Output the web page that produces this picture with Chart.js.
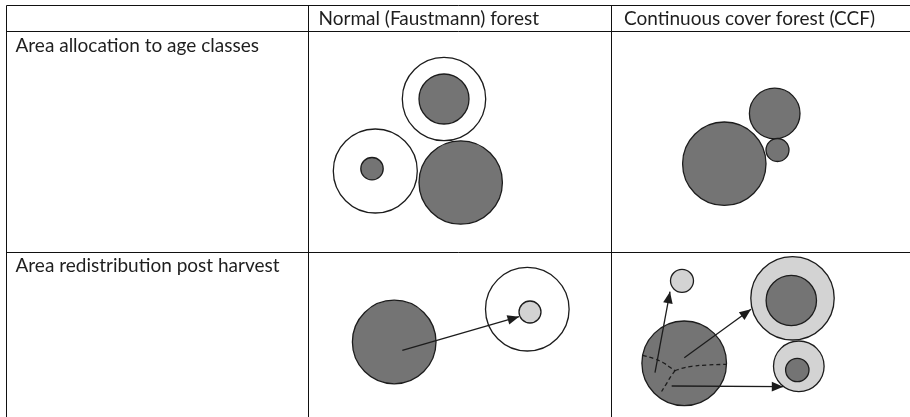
<!DOCTYPE html>
<html>
<head>
<meta charset="utf-8">
<script src="https://cdn.jsdelivr.net/npm/chart.js@4.4.1/dist/chart.umd.min.js"></script>
<style>
  html, body { margin: 0; padding: 0; background: #fff; }
  canvas { display: block; }
</style>
</head>
<body>
<canvas id="diagram" width="910" height="417"></canvas>
<script>
// ---- table frame (diagram units = px of the 910x417 page) ----
const colEdges = [6.5, 308.5, 611.5, 912];
const rowEdges = [5.5, 31.5, 252.5, 420];
const headerLabels = ['', 'Normal (Faustmann) forest', 'Continuous cover forest (CCF)'];
const headerInsets = [0, 10, 12.5];
const rowLabels = ['Area allocation to age classes', 'Area redistribution post harvest'];
const headerBaseline = 25;
const rowBaselines = [52, 271.5];

// ---- circles: [x, y, radius] ----
const whiteRings = [[444, 99, 41.7], [375.3, 171, 42], [527.3, 309.2, 41.8]];
const lightRings = [[792.5, 298.3, 41.7], [798.8, 366.3, 25.3]];
const darkCircles = [
  [444, 99, 25], [372, 168.7, 11.2], [460.7, 182.5, 41.7],
  [724.3, 163.7, 41.7], [774.7, 113.5, 25.3], [777.5, 150, 11.5],
  [394.2, 342, 41.8], [684.2, 363.3, 42.3],
  [791.3, 300.5, 25.2], [797.3, 370, 11.7]
];
const lightCircles = [[530, 312, 11], [682, 280.8, 11.5]];

// ---- arrows: [from, to] ----
const arrows = [
  [[402.3, 350.3], [519, 316.7]],
  [[655, 372.7], [670, 291.7]],
  [[684.3, 357.7], [751, 309.3]],
  [[671.7, 386], [783.3, 386.7]]
];

// ---- dashed partition lines inside the CCF harvest circle ----
const dashedLines = [
  [[642.7, 355.3], [653.3, 358.3], [663.3, 362.7], [670, 367.3], [675, 370.7]],
  [[675, 370.7], [681.7, 368.3], [691.7, 366.3], [706.7, 365], [726.7, 364.3]],
  [[675, 370.7], [670.7, 376.7], [666.7, 383.3], [660, 394]]
];

const INK = '#1c1c1c';
const DARK = '#747474';
const LIGHT = '#d3d3d3';
const FONT = '19px Lato, "Open Sans", sans-serif';

const toBubbles = list => list.map(([x, y, r]) => ({ x, y, r }));
const toPoints = list => list.map(([x, y]) => ({ x, y }));

function bubbleSet(list, fill, order) {
  return { type: 'bubble', data: toBubbles(list), backgroundColor: fill, borderColor: INK, borderWidth: 1.3, order };
}

const datasets = [
  bubbleSet(whiteRings, '#ffffff', 6),
  bubbleSet(lightRings, LIGHT, 6),
  bubbleSet(darkCircles, DARK, 5),
  bubbleSet(lightCircles, LIGHT, 4)
];
dashedLines.forEach(pts => datasets.push({
  type: 'line', data: toPoints(pts), borderColor: INK, borderWidth: 1.3,
  borderDash: [4, 3], tension: 0.4, pointRadius: 0, fill: false, order: 2
}));
arrows.forEach(pts => datasets.push({
  type: 'line', data: toPoints(pts), borderColor: INK, borderWidth: 1.3,
  pointRadius: 0, fill: false, order: 1, arrow: true
}));

const tablePlugin = {
  id: 'table',
  beforeDatasetsDraw(chart) {
    const { ctx, scales: { x, y } } = chart;
    ctx.save();
    ctx.strokeStyle = '#111';
    ctx.lineWidth = 1;
    const top = y.getPixelForValue(rowEdges[0]), bottom = y.getPixelForValue(rowEdges[rowEdges.length - 1]);
    const left = x.getPixelForValue(colEdges[0]), right = x.getPixelForValue(colEdges[colEdges.length - 1]);
    ctx.beginPath();
    colEdges.forEach(c => { const px = x.getPixelForValue(c); ctx.moveTo(px, top); ctx.lineTo(px, bottom); });
    rowEdges.forEach(r => { const py = y.getPixelForValue(r); ctx.moveTo(left, py); ctx.lineTo(right, py); });
    ctx.stroke();

    ctx.fillStyle = '#1e1e1e';
    ctx.font = FONT;
    ctx.textBaseline = 'alphabetic';
    headerLabels.forEach((t, i) => {
      if (t) ctx.fillText(t, x.getPixelForValue(colEdges[i]) + headerInsets[i], y.getPixelForValue(headerBaseline));
    });
    rowLabels.forEach((t, i) => {
      ctx.fillText(t, x.getPixelForValue(colEdges[0]) + 9, y.getPixelForValue(rowBaselines[i]));
    });
    ctx.restore();
  }
};

const arrowPlugin = {
  id: 'arrowHeads',
  afterDatasetsDraw(chart) {
    const ctx = chart.ctx;
    chart.data.datasets.forEach((ds, i) => {
      if (!ds.arrow) return;
      const pts = chart.getDatasetMeta(i).data;
      const a = pts[pts.length - 2], b = pts[pts.length - 1];
      const ang = Math.atan2(b.y - a.y, b.x - a.x);
      const len = 11.5, half = 4.8;
      ctx.save();
      ctx.translate(b.x, b.y);
      ctx.rotate(ang);
      ctx.fillStyle = INK;
      ctx.beginPath();
      ctx.moveTo(0, 0);
      ctx.lineTo(-len, -half);
      ctx.lineTo(-len, half);
      ctx.closePath();
      ctx.fill();
      ctx.restore();
    });
  }
};

new Chart(document.getElementById('diagram'), {
  type: 'scatter',
  data: { datasets },
  options: {
    responsive: false,
    animation: false,
    events: [],
    layout: { padding: 0, autoPadding: false },
    clip: false,
    plugins: { legend: { display: false }, tooltip: { enabled: false } },
    scales: {
      x: { type: 'linear', min: 0, max: 910, display: false },
      y: { type: 'linear', min: 0, max: 417, reverse: true, display: false }
    }
  },
  plugins: [tablePlugin, arrowPlugin]
});
</script>
</body>
</html>
